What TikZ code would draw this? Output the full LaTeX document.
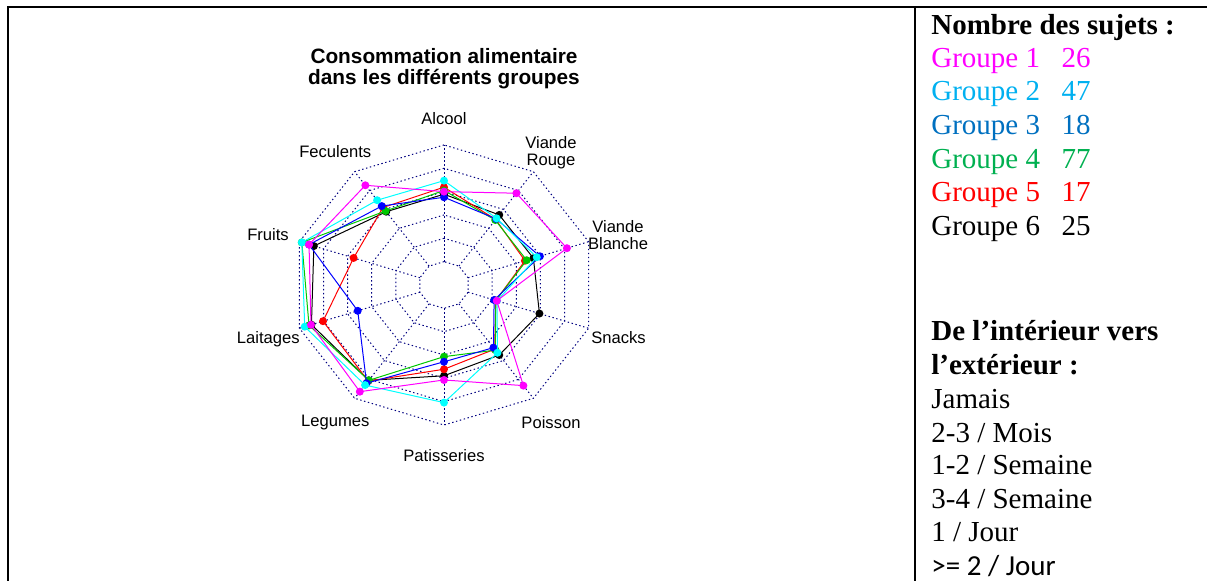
\documentclass[tikz,border=0pt]{standalone}
\usepackage{fontspec}
\setmainfont{Liberation Serif}
\newfontfamily\arialfont{Liberation Sans}
\newfontfamily\calibrifont{Carlito}
\usepackage{tikz}
\usetikzlibrary{positioning}
\usepackage{xcolor}
\definecolor{grpmag}{RGB}{255,0,255}
\definecolor{grpcyan}{RGB}{0,176,240}
\definecolor{grpblue}{RGB}{0,112,192}
\definecolor{grpgreen}{RGB}{0,176,80}
\definecolor{grpred}{RGB}{255,0,0}
\definecolor{navygrid}{RGB}{0,0,128}
\definecolor{plotblack}{RGB}{0,0,0}
\definecolor{plotred}{RGB}{255,0,0}
\definecolor{plotgreen}{RGB}{0,200,0}
\definecolor{plotblue}{RGB}{0,0,255}
\definecolor{plotcyan}{RGB}{0,255,255}
\definecolor{plotmag}{RGB}{255,0,255}

\begin{document}
\begin{tikzpicture}[x=0.5pt,y=0.5pt,
  rule/.style={line width=1pt},
  grid/.style={navygrid,line width=0.5pt,dash pattern=on 0.7pt off 1.3pt},
  lab/.style={font=\arialfont\fontsize{8.3}{8.5}\selectfont,align=center,inner sep=0pt},
  ttl/.style={font=\arialfont\bfseries\fontsize{10.4}{10.5}\selectfont,align=center,inner sep=0pt},
  leg/.style={anchor=base west,font=\fontsize{14.5}{17}\selectfont,inner sep=0pt},
  num/.style={anchor=base east,font=\fontsize{14.5}{17}\selectfont,inner sep=0pt},
  ]
  \useasboundingbox (0,0) rectangle (1207,581);

  % table lines
  \draw[rule] (8,0) |- (1207,574);
  \draw[rule] (915,0) -- (915,574);

  % chart
  \node at (444,512.5) [ttl] (titre) {Consommation alimentaire\\dans les différents groupes};
  \node at (444,456) [lab,anchor=base] (alcool) {Alcool};
  \node at (551,428.5) [lab] (vrouge) {Viande\\Rouge};
  \node at (618,346) [lab] (vblanche) {Viande\\Blanche};
  \node at (618.5,237) [lab,anchor=base] (snacks) {Snacks};
  \node at (551,152.7) [lab,anchor=base] (poisson) {Poisson};
  \node at (444,119.5) [lab,anchor=base] (patis) {Patisseries};
  \node at (335.3,154.3) [lab,anchor=base] (legumes) {Legumes};
  \node at (268.3,237.5) [lab,anchor=base] (laitages) {Laitages};
  \node at (268,340.3) [lab,anchor=base] (fruits) {Fruits};
  \node at (335.3,423.7) [lab,anchor=base] (feculents) {Feculents};

  \begin{scope}[shift={(444,296)},x=12.67pt,y=11.67pt]
    \foreach \r in {1,...,6}
      \draw[grid] (90:\r) \foreach \a in {126,162,...,414}{ -- (\a:\r)} -- cycle;
    \foreach \a in {90,54,...,-234}
      \draw[grid] (\a:1) -- (\a:6);
    \foreach \col/\vals in {
        plotblack/{3.89,3.71,3.71,3.96,3.71,3.89,5.05,5.5,5.4,3.88},
        plotred/{4.19,3.47,3.36,2.15,3.4,3.61,5.09,5.02,3.75,4.1},
        plotgreen/{4.05,3.44,3.43,2.15,3.45,3.07,5.05,5.6,5.9,3.92},
        plotblue/{3.76,3.5,3.98,2.08,3.32,3.29,5.2,3.58,5.6,4.18},
        plotcyan/{4.47,3.53,3.85,2.2,3.59,5.04,5.3,5.78,5.9,4.49},
        plotmag/{4.0,4.86,5.1,2.19,5.33,4.07,5.65,5.52,5.6,5.28}}{
      \foreach \v [count=\i] in \vals
        \coordinate (\col\i) at ({126-36*\i}:\v);
      \draw[\col,line width=0.5pt] (\col1) \foreach \i in {2,...,10}{ -- (\col\i)} -- cycle;
      \foreach \i in {1,...,10}
        \fill[\col] (\col\i) circle (2pt);
    }
  \end{scope}

  % legend
  \node at (931,546.7) [leg] (nbtitre) {\textbf{Nombre des sujets :}};
  \node at (931,513.3) [leg,grpmag] (grp1) {Groupe 1};
  \node at (931,480) [leg,grpcyan] (grp2) {Groupe 2};
  \node at (931,446.7) [leg,grpblue] (grp3) {Groupe 3};
  \node at (931,412.7) [leg,grpgreen] (grp4) {Groupe 4};
  \node at (931,379) [leg,grpred] (grp5) {Groupe 5};
  \node at (931,345) [leg] (grp6) {Groupe 6};
  \node at (1091,513.3) [num,grpmag] (nb1) {26};
  \node at (1091,480) [num,grpcyan] (nb2) {47};
  \node at (1091,446.7) [num,grpblue] (nb3) {18};
  \node at (1091,412.7) [num,grpgreen] (nb4) {77};
  \node at (1091,379) [num,grpred] (nb5) {17};
  \node at (1091,345) [num] (nb6) {25};

  \node at (931,240.3) [leg] (sens1) {\textbf{De l’intérieur vers}};
  \node at (931,206) [leg] (sens2) {\textbf{l’extérieur :}};
  \node at (931,172.7) [leg] (niv1) {Jamais};
  \node at (931,138.3) [leg] (niv2) {2-3 / Mois};
  \node at (931,106) [leg] (niv3) {1-2 / Semaine};
  \node at (931,72.7) [leg] (niv4) {3-4 / Semaine};
  \node at (931,39.3) [leg] (niv5) {1 / Jour};
  \node at (931,5) [leg,font=\calibrifont\fontsize{14.5}{17}\selectfont] (niv6) {>= 2 / Jour};
\end{tikzpicture}
\end{document}
